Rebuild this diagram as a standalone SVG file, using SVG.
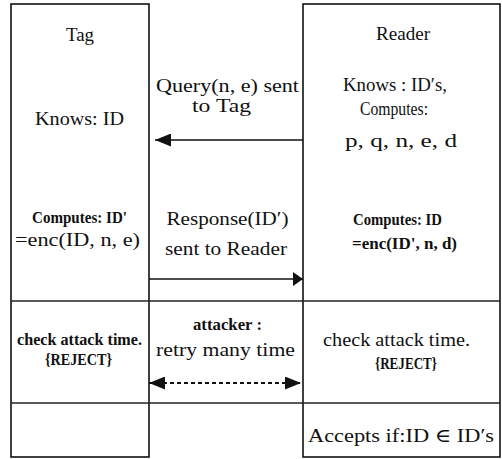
<svg xmlns="http://www.w3.org/2000/svg" width="502" height="459" viewBox="0 0 502 459">
  <style>
    .frame { fill: none; stroke: #111; stroke-width: 1.6; }
    .rule { stroke: #222; stroke-width: 1.6; }
    text { fill: #111; text-anchor: middle; font-family: "Liberation Serif", "Times New Roman", "DejaVu Serif", serif; }
    .t { font-size: 19px; }
    .c { font-size: 17px; font-weight: bold; }
    .msg { fill: none; stroke: #111; stroke-width: 1.6; }
    .dash { fill: none; stroke: #111; stroke-width: 2; stroke-dasharray: 4 3; }
  </style>
  <defs>
    <marker id="head" viewBox="0 0 16 13" refX="16" refY="6.5" markerWidth="16" markerHeight="13" markerUnits="userSpaceOnUse" orient="auto-start-reverse">
      <path d="M0,0 L16,6.5 L0,13 Z" fill="#111" stroke="none"/>
    </marker>
    <marker id="stub" viewBox="0 0 10 14" refX="10" refY="7" markerWidth="10" markerHeight="14" markerUnits="userSpaceOnUse" orient="auto">
      <path d="M0,0 L10,7 L0,14 Z" fill="#111" stroke="none"/>
    </marker>
  </defs>

  <rect width="502" height="459" fill="#ffffff"/>

  <!-- column frames and row rules -->
  <g id="grid">
    <rect class="frame" x="11" y="4" width="138" height="453"/>
    <rect class="frame" x="303" y="4" width="197" height="453"/>
    <line class="rule" x1="11" y1="301" x2="500" y2="301"/>
    <line class="rule" x1="11" y1="403" x2="500" y2="403"/>
  </g>

  <!-- Tag column -->
  <g id="tag">
    <text class="t" x="80" y="41" textLength="28" lengthAdjust="spacingAndGlyphs">Tag</text>
    <text class="t" x="79.5" y="125" textLength="89" lengthAdjust="spacingAndGlyphs">Knows: ID</text>
    <text class="c" x="79.5" y="223" textLength="95" lengthAdjust="spacingAndGlyphs">Computes: ID'</text>
    <text class="t" x="77.5" y="246" textLength="125" lengthAdjust="spacingAndGlyphs">=enc(ID, n, e)</text>
  </g>

  <!-- Reader column -->
  <g id="reader">
    <text class="t" x="403" y="40" textLength="54" lengthAdjust="spacingAndGlyphs">Reader</text>
    <text class="t" x="395" y="91" textLength="104" lengthAdjust="spacingAndGlyphs">Knows : ID′s,</text>
    <text class="t" x="394" y="115" textLength="68" lengthAdjust="spacingAndGlyphs">Computes:</text>
    <text class="t" x="401" y="147" textLength="112" lengthAdjust="spacingAndGlyphs">p, q, n, e, d</text>
    <text class="c" x="397.5" y="225" textLength="89" lengthAdjust="spacingAndGlyphs">Computes: ID</text>
    <text class="c" x="404.5" y="249" textLength="105" lengthAdjust="spacingAndGlyphs">=enc(ID', n, d)</text>
  </g>

  <!-- attack-check row -->
  <g id="tag-check">
    <text class="c" x="79.5" y="345" textLength="125" lengthAdjust="spacingAndGlyphs">check attack time.</text>
    <text class="c" x="78.5" y="365" textLength="67" lengthAdjust="spacingAndGlyphs">{REJECT}</text>
  </g>
  <g id="attacker">
    <text class="c" x="227.5" y="330" textLength="69" lengthAdjust="spacingAndGlyphs">attacker :</text>
    <text class="t" x="225.5" y="356" textLength="139" lengthAdjust="spacingAndGlyphs">retry many time</text>
  </g>
  <g id="reader-check">
    <text class="t" x="396.5" y="346" textLength="147" lengthAdjust="spacingAndGlyphs">check attack time.</text>
    <text class="c" x="406" y="369" textLength="62" lengthAdjust="spacingAndGlyphs">{REJECT}</text>
  </g>

  <!-- acceptance row -->
  <g id="reader-accept">
    <text class="t" x="401" y="442" textLength="186" lengthAdjust="spacingAndGlyphs">Accepts if:ID ∈ ID′s</text>
  </g>

  <!-- messages -->
  <g id="connectors">
    <text class="t" x="227.5" y="92" textLength="143" lengthAdjust="spacingAndGlyphs">Query(n, e) sent</text>
    <text class="t" x="221.5" y="112" textLength="59" lengthAdjust="spacingAndGlyphs">to Tag</text>
    <path class="msg" d="M303,140 L155,140" marker-end="url(#head)"/>

    <text class="t" x="227.5" y="225" textLength="122" lengthAdjust="spacingAndGlyphs">Response(ID′)</text>
    <text class="t" x="226" y="255" textLength="122" lengthAdjust="spacingAndGlyphs">sent to Reader</text>
    <path class="msg" d="M149,279 L303,279" marker-end="url(#stub)"/>

    <path class="dash" d="M149,383 L301,383" marker-start="url(#head)" marker-end="url(#head)"/>
  </g>
</svg>
